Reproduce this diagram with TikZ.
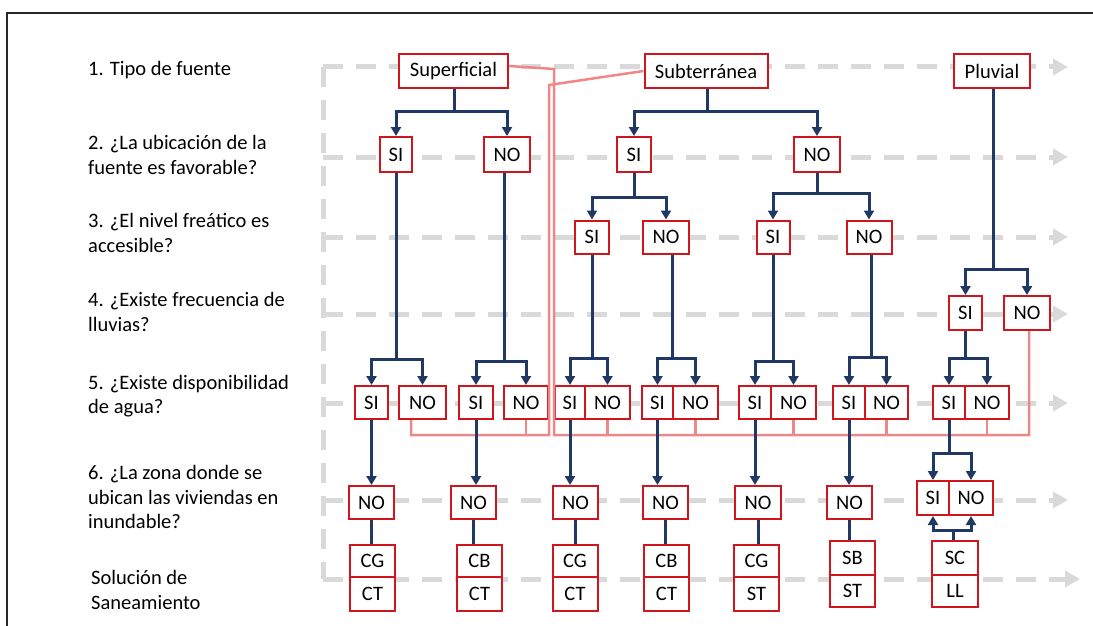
\documentclass[tikz,border=0pt]{standalone}
\usepackage{fontspec}
\setmainfont{Carlito}
\usetikzlibrary{arrows.meta,calc}
\definecolor{navy}{RGB}{31,56,100}
\definecolor{boxred}{RGB}{210,20,30}
\definecolor{pinkl}{RGB}{240,135,135}
\definecolor{dashgray}{RGB}{217,217,217}
\definecolor{framecol}{RGB}{40,40,40}
\begin{document}
\begin{tikzpicture}[x=1pt,y=-1pt,
 bx/.style={draw=boxred,line width=2pt,fill=white,inner sep=0pt,minimum height=33pt,font=\fontsize{20.5}{24}\selectfont},
 lbl/.style={anchor=west,align=left,inner sep=0pt,font=\fontsize{20.5}{24.5}\selectfont},
 arr/.style={draw=navy,line width=3pt,-{Triangle[width=10pt,length=9pt]}},
 ln/.style={draw=navy,line width=3pt},
 pk/.style={draw=pinkl,line width=2.5pt},
 gd/.style={draw=dashgray,line width=5pt,dash pattern=on 20pt off 13pt},
 garr/.style={gd,-{Triangle[width=16pt,length=15pt]}}]
\useasboundingbox (0,0) rectangle (1093,626);
% frame
\draw[framecol,line width=1.5pt] (7,626) -- (7,13) -- (1093,13);
% labels
\node[lbl] (l1) at (88,70) {1. Tipo de fuente};
\node[lbl] (l2) at (88,155) {2. ¿La ubicación de la\\fuente es favorable?};
\node[lbl] (l3) at (88,233) {3. ¿El nivel freático es\\accesible?};
\node[lbl] (l4) at (88,312) {4. ¿Existe frecuencia de\\lluvias?};
\node[lbl] (l5) at (88,396) {5. ¿Existe disponibilidad\\de agua?};
\node[lbl] (l6) at (88,497) {6. ¿La zona donde se\\ubican las viviendas en\\inundable?};
\node[lbl] (l7) at (91,590) {Solución de\\Saneamiento};
% gray dashed guide lines
\coordinate (g0) at (323,67);
\coordinate (g7) at (323,579);
\draw[gd] (g0) -- (g7);
\foreach \yy/\xe in {67/1068,157/1068,237/1068,314/1068,403/1068,500/1068,579/1080}{
  \coordinate (gs) at (323,\yy);
  \coordinate (ge) at (\xe,\yy);
  \draw[garr] (gs) -- (ge);
}
% row 1
\node[bx,minimum width=109pt,minimum height=34pt] (sup) at (453.5,71) {Superficial};
\node[bx,minimum width=123pt,minimum height=34pt] (sub) at (706,71) {Subterránea};
\node[bx,minimum width=76pt,minimum height=34pt] (plu) at (992,71) {Pluvial};
% row 2
\node[bx,minimum width=32pt,minimum height=35pt] (ssi) at (396,154.5) {SI};
\node[bx,minimum width=46pt,minimum height=35pt] (sno) at (507,154.5) {NO};
\node[bx,minimum width=34pt,minimum height=35pt] (bsi) at (634,154.5) {SI};
\node[bx,minimum width=46pt,minimum height=35pt] (bno) at (817,154.5) {NO};
% row 3
\node[bx,minimum width=34pt] (bss) at (592,237) {SI};
\node[bx,minimum width=46pt] (bsn) at (666,237) {NO};
\node[bx,minimum width=33pt] (bns) at (773,237) {SI};
\node[bx,minimum width=45pt] (bnn) at (869,237) {NO};
% row 4
\node[bx,minimum width=33pt,minimum height=34pt] (psi) at (965.5,313) {SI};
\node[bx,minimum width=46pt,minimum height=34pt] (pno) at (1027,313) {NO};
% pink route points
\coordinate (pa1) at (554,69);
\coordinate (pa2) at (554,435);
\coordinate (pa3) at (1029,435);
\coordinate (pb1) at (549,85);
\coordinate (pb2) at (549,435);
\coordinate (pb3) at (411,435);
% row 5
\node[bx,minimum width=33pt] (p1si) at (371.5,402.5) {SI};
\node[bx,minimum width=47pt] (p1no) at (422.5,402.5) {NO};
\node[bx,minimum width=34pt] (p2si) at (476,402.5) {SI};
\node[bx,minimum width=44pt] (p2no) at (526,402.5) {NO};
\node[bx,minimum width=30pt] (p3si) at (570,402.5) {SI};
\node[bx,minimum width=45pt] (p3no) at (607.5,402.5) {NO};
\node[bx,minimum width=31pt] (p4si) at (657.5,402.5) {SI};
\node[bx,minimum width=45pt] (p4no) at (695.5,402.5) {NO};
\node[bx,minimum width=32pt] (p5si) at (755,402.5) {SI};
\node[bx,minimum width=45pt] (p5no) at (793.5,402.5) {NO};
\node[bx,minimum width=32pt] (p6si) at (849,402.5) {SI};
\node[bx,minimum width=43pt] (p6no) at (886.5,402.5) {NO};
\node[bx,minimum width=32pt] (p7si) at (949,402.5) {SI};
\node[bx,minimum width=44pt] (p7no) at (987,402.5) {NO};
% pink connectors
\draw[pk] ($(sup.east)+(0,-5)$) -- (pa1) -- (pa2) -- (pa3) -- (pa3 |- pno.south);
\draw[pk] (sub.west) -- (pb1) -- (pb2) -- (pb3) -- (pb3 |- p1no.south);
\foreach \n in {p2no,p3no,p4no,p5no,p6no,p7no}{
  \draw[pk] (\n.south) -- (\n.south |- pa2);
}
% row 6
\node[bx,minimum width=45pt] (n1) at (371.5,502.5) {NO};
\node[bx,minimum width=45pt] (n2) at (473.5,502.5) {NO};
\node[bx,minimum width=45pt] (n3) at (575.5,502.5) {NO};
\node[bx,minimum width=45pt] (n4) at (665.5,502.5) {NO};
\node[bx,minimum width=46pt] (n5) at (758,502.5) {NO};
\node[bx,minimum width=45pt] (n6) at (849.5,502.5) {NO};
\node[bx,minimum width=32pt,minimum height=34pt] (qsi) at (933,498) {SI};
\node[bx,minimum width=44pt,minimum height=34pt] (qno) at (971,498) {NO};
% row 7 solutions
\foreach \i/\xx/\ta/\tb in {1/372.5/CG/CT,2/479.5/CB/CT,3/575/CG/CT,4/666.5/CB/CT,5/756.5/CG/ST}{
  \node[bx,minimum width=45pt,minimum height=32pt] (c\i t) at (\xx,561) {\ta};
  \node[bx,minimum width=45pt,minimum height=34pt] (c\i b) at (\xx,594) {\tb};
}
\node[bx,minimum width=45pt,minimum height=34pt] (c6t) at (852.5,558) {SB};
\node[bx,minimum width=45pt,minimum height=32pt] (c6b) at (852.5,591) {ST};
\node[bx,minimum width=46pt,minimum height=34pt] (c7t) at (955,558) {SC};
\node[bx,minimum width=46pt,minimum height=32pt] (c7b) at (955,591) {LL};
% navy connectors
\coordinate (k1) at (454,111);
\draw[ln] (sup.south -| k1) -- (k1);
\draw[arr] (k1) -| (ssi.north);
\draw[arr] (k1) -| (sno.north);
\coordinate (k2) at (707,111);
\draw[ln] (sub.south -| k2) -- (k2);
\draw[arr] (k2) -| (bsi.north);
\draw[arr] (k2) -| (bno.north);
\coordinate (k3) at (634,197);
\draw[ln] (bsi.south) -- (k3);
\draw[arr] (k3) -| (bss.north);
\draw[arr] (k3) -| (bsn.north);
\coordinate (k4) at (817,193);
\draw[ln] (bno.south) -- (k4);
\draw[arr] (k4) -| (bns.north);
\draw[arr] (k4) -| (bnn.north);
\coordinate (k5) at (993,269);
\draw[ln] (plu.south -| k5) -- (k5);
\draw[arr] (k5) -| (psi.north);
\draw[arr] (k5) -| (pno.north);
\foreach \pp/\xx/\yy/\a/\b in {ssi/396/359/p1si/p1no, sno/504/361/p2si/p2no, bss/592/358/p3si/p3no, bsn/672/358/p4si/p4no, bns/773/361/p5si/p5no, bnn/871/357/p6si/p6no, psi/965.5/358/p7si/p7no}{
  \coordinate (kk) at (\xx,\yy);
  \draw[ln] (\pp.south -| kk) -- (kk);
  \draw[arr] (kk) -| (\a.north);
  \draw[arr] (kk) -| (\b.north);
}
\foreach \s/\t in {p1si/n1,p2si/n2,p3si/n3,p4si/n4,p5si/n5,p6si/n6}{
  \draw[arr] (\s.south) -- (\s.south |- \t.north);
}
\coordinate (k6) at (949,453);
\draw[ln] (p7si.south) -- (k6);
\draw[arr] (k6) -| (qsi.north);
\draw[arr] (k6) -| (qno.north);
\foreach \i in {1,...,6}{
  \draw[ln] (n\i.south) -- (n\i.south |- c\i t.north);
}
\coordinate (k7) at (953,530);
\draw[ln] (c7t.north -| k7) -- (k7);
\draw[arr] (k7) -| (qsi.south);
\draw[arr] (k7) -| (qno.south);
\end{tikzpicture}
\end{document}
